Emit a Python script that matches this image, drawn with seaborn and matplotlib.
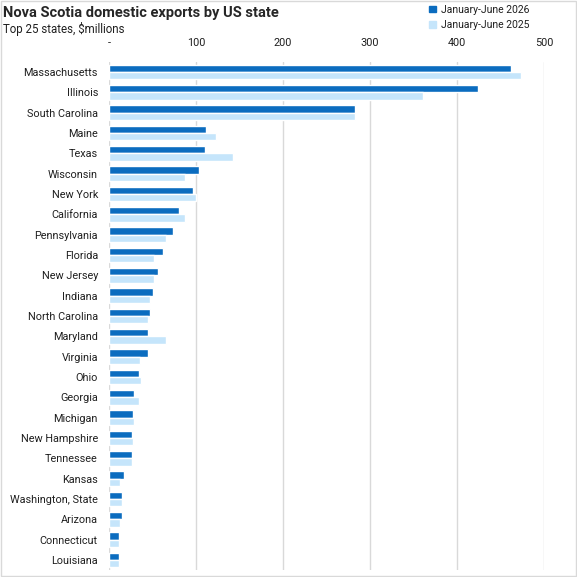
import pandas as pd
import matplotlib.pyplot as plt
import seaborn as sns
from matplotlib.patches import Patch, Rectangle

#%% data
states = ["Massachusetts", "Illinois", "South Carolina", "Maine", "Texas",
          "Wisconsin", "New York", "California", "Pennsylvania", "Florida",
          "New Jersey", "Indiana", "North Carolina", "Maryland", "Virginia",
          "Ohio", "Georgia", "Michigan", "New Hampshire", "Tennessee",
          "Kansas", "Washington, State", "Arizona", "Connecticut", "Louisiana"]
exports2026 = [462, 424, 283, 112, 110, 103, 96, 81, 74, 62,
               56, 50, 47.5, 45, 45, 34, 29, 28, 26, 26,
               17.5, 15, 15, 12, 12]
exports2025 = [473, 361, 283, 123, 142, 87, 100, 87, 66, 52,
               52, 47.5, 45, 65, 36, 37, 35, 29, 28, 26,
               13, 15, 13, 12, 11]
periods = ["January-June 2026", "January-June 2025"]
xticks = [0, 100, 200, 300, 400, 500]
xtick_labels = ["-", "100", "200", "300", "400", "500"]

dark_blue = "#0B6CBF"
light_blue = "#C5E5FB"

exportsDf = pd.DataFrame({
    "State": states * 2,
    "Period": [periods[0]] * len(states) + [periods[1]] * len(states),
    "Exports": exports2026 + exports2025,
})

#%% plot
sns.set_style("white")
plt.rcParams["font.family"] = ["Roboto", "DejaVu Sans"]

fig = plt.figure(figsize=(5.77, 5.77), dpi=100)
ax = fig.add_axes([109 / 577, 7 / 577, 435 / 577, 508 / 577])

sns.barplot(data=exportsDf, y="State", x="Exports", hue="Period",
            order=states, hue_order=periods, orient="h",
            palette=[dark_blue, light_blue], width=0.72,
            saturation=1, legend=False, ax=ax)

ax.set_xlim(0, 500)
ax.set_ylim(len(states) - 0.5, -0.5)
ax.set_xticks(xticks)
ax.set_xticklabels(xtick_labels)
ax.xaxis.tick_top()
ax.tick_params(axis="both", length=0, labelsize=7.8, colors="#1F1F1F")
ax.tick_params(axis="x", pad=10)
ax.tick_params(axis="y", pad=8)
ax.grid(axis="x", color="#D9D9D9", linewidth=1)
ax.set_axisbelow(True)
for side in ax.spines.values():
    side.set_visible(False)
ax.set_xlabel("")
ax.set_ylabel("")

# titles
fig.text(3 / 577, 1 - 13 / 577, "Nova Scotia domestic exports by US state",
         fontsize=10.5, fontweight="bold", va="center", ha="left")
fig.text(3 / 577, 1 - 29 / 577, "Top 25 states, $millions",
         fontsize=8.3, va="center", ha="left", color="#1F1F1F")

# legend
handles = [Patch(color=dark_blue), Patch(color=light_blue)]
fig.legend(handles, periods, loc="upper left",
           bbox_to_anchor=(420 / 577, 1.008), frameon=False, fontsize=7.5,
           handlelength=0.6, handleheight=0.6, handletextpad=0.5,
           labelspacing=0.5, labelcolor="#1F1F1F")

# border
fig.patches.append(Rectangle((0.001, 0.001), 0.997, 0.997, transform=fig.transFigure,
                             fill=False, edgecolor="#D9D9D9", linewidth=1))

fig.savefig("out.png", dpi=100)
